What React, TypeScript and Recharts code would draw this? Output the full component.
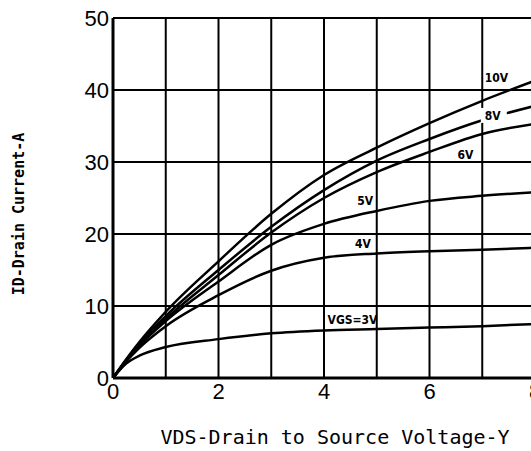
import React from 'react';
import { LineChart, Line, XAxis, YAxis, CartesianGrid, ReferenceDot, Label } from 'recharts';

// VDS - drain to source voltage (V)
const voltage = [0, 0.25, 0.5, 1, 2, 3, 4, 5, 6, 7, 8];
// ID - drain current (A) for each gate voltage
const id10V = [0, 2.6, 5.0, 9.2, 16.2, 22.8, 28.2, 32.0, 35.4, 38.5, 41.3];
const id8V = [0, 2.5, 4.8, 8.6, 15.0, 21.0, 26.1, 30.2, 33.2, 35.8, 37.8];
const id6V = [0, 2.4, 4.6, 8.2, 14.3, 20.2, 25.0, 28.6, 31.4, 33.9, 35.3];
const id5V = [0, 2.4, 4.5, 7.9, 13.4, 18.5, 21.4, 23.2, 24.6, 25.3, 25.8];
const id4V = [0, 2.3, 4.2, 7.2, 11.5, 14.9, 16.7, 17.3, 17.6, 17.8, 18.1];
const id3V = [0, 2.0, 3.1, 4.3, 5.4, 6.2, 6.6, 6.8, 7.0, 7.2, 7.5];

const xTicks = [0, 1, 2, 3, 4, 5, 6, 7, 8];
const yTicks = [0, 10, 20, 30, 40, 50];

const curveLabelText = ['10V', '8V', '6V', '5V', '4V', 'VGS=3V'];
// annotation anchors (VDS, ID) for curve labels
const curveLabelV = [7.27, 7.2, 6.68, 4.78, 4.74, 4.54];
const curveLabelA = [41.6, 36.4, 31.0, 24.6, 18.6, 8.0];

const data = voltage.map((v, i) => ({
  v,
  g10: id10V[i],
  g8: id8V[i],
  g6: id6V[i],
  g5: id5V[i],
  g4: id4V[i],
  g3: id3V[i],
}));

const seriesKeys = ['g10', 'g8', 'g6', 'g5', 'g4', 'g3'];

const CurveLabel = (props: any) => {
  const { viewBox, text, bg } = props;
  const x = viewBox.x;
  const y = viewBox.y;
  return (
    <g>
      {bg && <rect x={x - 12} y={y - 8} width={26} height={15} fill="#fff" />}
      <text
        x={x}
        y={y}
        textAnchor="middle"
        dominantBaseline="central"
        fontFamily="'DejaVu Sans Condensed', 'DejaVu Sans', sans-serif"
        fontWeight="bold"
        fontSize={12}
        fill="#000"
      >
        {text}
      </text>
    </g>
  );
};

export default function App() {
  return (
    <div
      style={{
        position: 'fixed',
        left: 0,
        top: 0,
        width: 531,
        height: 451,
        overflow: 'hidden',
        background: '#fff',
      }}
    >
      <LineChart
        width={550}
        height={451}
        data={data}
        margin={{ top: 18, right: 15, left: 0, bottom: 13 }}
      >
        <CartesianGrid stroke="#000" strokeWidth={2} strokeOpacity={1} />
        <XAxis
          dataKey="v"
          type="number"
          domain={[0, 8]}
          ticks={xTicks}
          tickFormatter={(v: number) => (v % 2 === 0 ? String(v) : '')}
          interval={0}
          height={60}
          tickLine={false}
          tickSize={0}
          tickMargin={5}
          axisLine={{ stroke: '#000', strokeWidth: 3 }}
          tick={{ fill: '#000', fontSize: 22, fontFamily: "'Liberation Sans', Arial, sans-serif" }}
        >
          <Label
            content={(p: any) => {
              const vb = p.viewBox;
              return (
                <text
                  x={vb.x + vb.width / 2 + 11}
                  y={vb.y + 66}
                  textAnchor="middle"
                  fontFamily="'DejaVu Sans Mono', monospace"
                  fontSize={20}
                  fill="#000"
                >
                  VDS-Drain to Source Voltage-Y
                </text>
              );
            }}
          />
        </XAxis>
        <YAxis
          type="number"
          domain={[0, 50]}
          ticks={yTicks}
          interval={0}
          width={113}
          tickLine={false}
          tickSize={0}
          tickMargin={4}
          axisLine={{ stroke: '#000', strokeWidth: 3 }}
          tick={{ fill: '#000', fontSize: 22, fontFamily: "'Liberation Sans', Arial, sans-serif" }}
        >
          <Label
            content={() => (
              <text
                x={19}
                y={214}
                transform="rotate(-90, 19, 214)"
                textAnchor="middle"
                dominantBaseline="central"
                fontFamily="'DejaVu Sans Mono', monospace"
                fontWeight="bold"
                fontSize={15}
                fill="#000"
              >
                ID-Drain Current-A
              </text>
            )}
          />
        </YAxis>
        {seriesKeys.map((k) => (
          <Line
            key={k}
            type="monotone"
            dataKey={k}
            stroke="#000"
            strokeWidth={2.5}
            dot={false}
            isAnimationActive={false}
          />
        ))}
        {curveLabelText.map((t, i) => (
          <ReferenceDot
            key={t}
            x={curveLabelV[i]}
            y={curveLabelA[i]}
            r={0}
            fill="none"
            stroke="none"
            label={(p: any) => <CurveLabel {...p} text={t} bg={t === '8V'} />}
          />
        ))}
      </LineChart>
    </div>
  );
}
